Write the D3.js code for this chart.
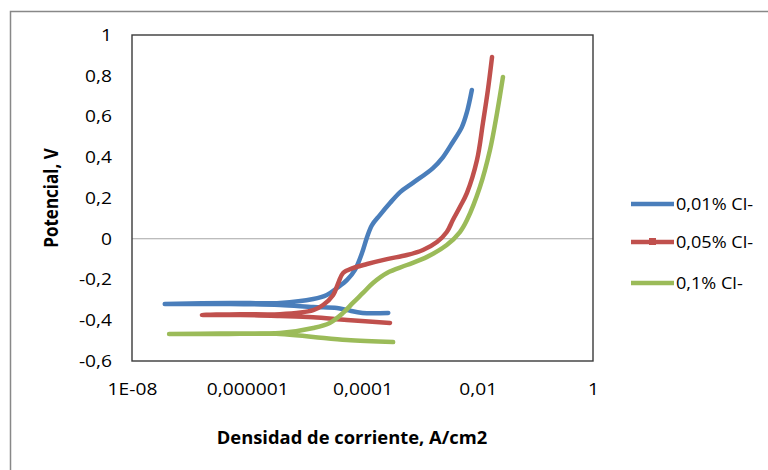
<!DOCTYPE html>
<html lang="es">
<head>
    <meta charset="utf-8">
    <title>Curvas de polarizacion</title>
    <script src="https://d3js.org/d3.v7.min.js"></script>
    <style>
        body { margin: 0; background: #fff; }
        text { font-family: "Open Sans", "Noto Sans", sans-serif; fill: #000; }
    </style>
</head>
<body>
<script>

    var w = 768;
    var h = 470;

    // series names (legend)
    var seriesNames = ["0,01% Cl-", "0,05% Cl-", "0,1% Cl-"];
    var seriesColors = ["#4A7EBB", "#C0504D", "#9BBB59"];

    // densidad de corriente (A/cm2) y potencial (V)
    var i001 = [2.8e-4, 1.0e-4, 5.4e-5, 3.6e-5, 1.4e-5, 3.7e-6, 5.0e-7, 3.7e-8,
                5.0e-7, 3.7e-6, 1.4e-5, 2.4e-5, 3.6e-5, 5.4e-5, 7.4e-5, 9.8e-5, 1.2e-4,
                1.46e-4, 2.0e-4, 3.0e-4, 4.5e-4, 7.5e-4, 1.67e-3, 2.5e-3, 3.7e-3, 5.3e-3,
                6.5e-3, 7.9e-3];
    var e001 = [-0.364, -0.364, -0.350, -0.340, -0.335, -0.325, -0.320, -0.320,
                -0.315, -0.315, -0.296, -0.276, -0.242, -0.202, -0.153, -0.070, 0.008,
                0.067, 0.116, 0.175, 0.229, 0.274, 0.347, 0.401, 0.475, 0.548,
                0.622, 0.730];

    var i005 = [3.0e-4, 5.4e-5, 1.4e-5, 3.7e-6, 7.5e-7, 1.64e-7,
                7.5e-7, 3.7e-6, 1.4e-5, 2.07e-5, 3.1e-5, 3.8e-5, 4.6e-5, 6.8e-5, 1.2e-4,
                2.66e-4, 5.9e-4, 1.12e-3, 1.96e-3, 2.9e-3, 3.7e-3, 4.9e-3, 6.5e-3,
                9.7e-3, 1.23e-2, 1.5e-2, 1.77e-2];
    var e005 = [-0.413, -0.399, -0.385, -0.379, -0.374, -0.374,
                -0.370, -0.370, -0.350, -0.325, -0.276, -0.217, -0.168, -0.144, -0.124,
                -0.100, -0.080, -0.055, -0.016, 0.033, 0.092, 0.156, 0.225,
                0.386, 0.568, 0.730, 0.892];

    var i01 = [3.4e-4, 5.4e-5, 1.4e-5, 3.7e-6, 3.4e-7, 4.4e-8,
               3.4e-7, 3.7e-6, 1.4e-5, 2.7e-5, 4.6e-5, 6.8e-5, 1.02e-4, 1.52e-4, 2.66e-4,
               5.9e-4, 1.32e-3, 2.9e-3, 4.9e-3, 6.5e-3, 1.09e-2, 1.63e-2, 2.16e-2, 2.74e-2];
    var e01 = [-0.507, -0.497, -0.482, -0.467, -0.467, -0.467,
               -0.465, -0.463, -0.438, -0.413, -0.364, -0.315, -0.266, -0.217, -0.168,
               -0.129, -0.089, -0.031, 0.033, 0.092, 0.254, 0.436, 0.617, 0.794];

    // axis ticks
    var xTicks = [1e-8, 1e-6, 1e-4, 1e-2, 1];
    var xTickLabels = ["1E-08", "0,000001", "0,0001", "0,01", "1"];
    var yTicks = [-0.6, -0.4, -0.2, 0, 0.2, 0.4, 0.6, 0.8, 1];

    var series = [
        {name: seriesNames[0], color: seriesColors[0], i: i001, e: e001},
        {name: seriesNames[1], color: seriesColors[1], i: i005, e: e005},
        {name: seriesNames[2], color: seriesColors[2], i: i01, e: e01}
    ];

    var sx = 1.13; // the picture text looks a bit wider than normal

    var svg = d3.select("body").append("svg")
        .attr("width", w)
        .attr("height", h);

    // outer chart frame
    svg.append("rect")
        .attr("x", 10.5).attr("y", 11.5)
        .attr("width", w + 20).attr("height", h + 20)
        .attr("fill", "none")
        .attr("stroke", "#888")
        .attr("stroke-width", 1.5);

    var x = d3.scaleLog().domain([1e-8, 1]).range([132, 593]);
    var y = d3.scaleLinear().domain([-0.6, 1]).range([361, 35]);

    var loc = d3.formatLocale({decimal: ",", thousands: ".", grouping: [3], currency: ["", ""], minus: "-"});
    var fmtY = function(d) { return d === 0 ? "0" : loc.format("~g")(+d.toFixed(1)); };

    // zero line
    svg.append("line")
        .attr("x1", x(1e-8)).attr("x2", x(1))
        .attr("y1", y(0)).attr("y2", y(0))
        .attr("stroke", "#A6A6A6")
        .attr("stroke-width", 1.2);

    // plot area border
    svg.append("rect")
        .attr("x", x(1e-8)).attr("y", y(1))
        .attr("width", x(1) - x(1e-8))
        .attr("height", y(-0.6) - y(1))
        .attr("fill", "none")
        .attr("stroke", "#3a3a3a")
        .attr("stroke-width", 1.4);

    // y axis
    var yAxis = svg.append("g")
        .attr("transform", "translate(" + x(1e-8) + ",0)")
        .call(d3.axisLeft(y).tickValues(yTicks).tickSize(0).tickFormat(fmtY));
    yAxis.select(".domain").remove();
    yAxis.selectAll("text")
        .attr("x", -20 / sx)
        .attr("transform", "scale(" + sx + ",1)")
        .style("font-size", "17px")
        .style("font-family", "'Open Sans', sans-serif");

    // x axis
    var xAxis = svg.append("g")
        .attr("transform", "translate(0," + y(-0.6) + ")")
        .call(d3.axisBottom(x).tickValues(xTicks).tickSize(0)
            .tickFormat(function(d, i) { return xTickLabels[i]; }));
    xAxis.select(".domain").remove();
    xAxis.selectAll("text")
        .attr("y", 22)
        .attr("transform", "scale(" + sx + ",1)")
        .style("font-size", "17px")
        .style("font-family", "'Open Sans', sans-serif");

    // axis titles
    svg.append("text")
        .attr("transform", "translate(352,438) scale(1.08,1)")
        .attr("text-anchor", "middle")
        .attr("dy", "0.35em")
        .style("font-size", "17px")
        .style("font-weight", "bold")
        .text("Densidad de corriente, A/cm2");

    svg.append("text")
        .attr("transform", "translate(51,198) scale(" + sx + ",1) rotate(-90)")
        .attr("text-anchor", "middle")
        .attr("dy", "0.35em")
        .style("font-size", "17px")
        .style("font-weight", "bold")
        .text("Potencial, V");

    // curves
    var line = d3.line()
        .x(function(d) { return x(d[0]); })
        .y(function(d) { return y(d[1]); })
        .curve(d3.curveCatmullRom.alpha(0.5));

    series.forEach(function(s) {
        var pts = s.i.map(function(v, k) { return [v, s.e[k]]; });
        svg.append("path")
            .datum(pts)
            .attr("d", line)
            .attr("fill", "none")
            .attr("stroke", s.color)
            .attr("stroke-width", 4.5)
            .attr("stroke-linejoin", "round")
            .attr("stroke-linecap", "round");
    });

    // legend
    var legend = svg.append("g");
    var legendY = [204, 242, 283];
    series.forEach(function(s, k) {
        var g = legend.append("g").attr("transform", "translate(0," + legendY[k] + ")");
        g.append("line")
            .attr("x1", 631).attr("x2", 674)
            .attr("stroke", s.color)
            .attr("stroke-width", 4.5);
        if (k === 1) {
            g.append("rect").attr("x", 649).attr("y", -4).attr("width", 7).attr("height", 7)
                .attr("fill", s.color);
        }
        g.append("text")
            .attr("transform", "translate(676,0) scale(" + sx + ",1)")
            .attr("dy", "0.35em")
            .style("font-size", "16px")
            .text(s.name);
    });

</script>
</body>
</html>
